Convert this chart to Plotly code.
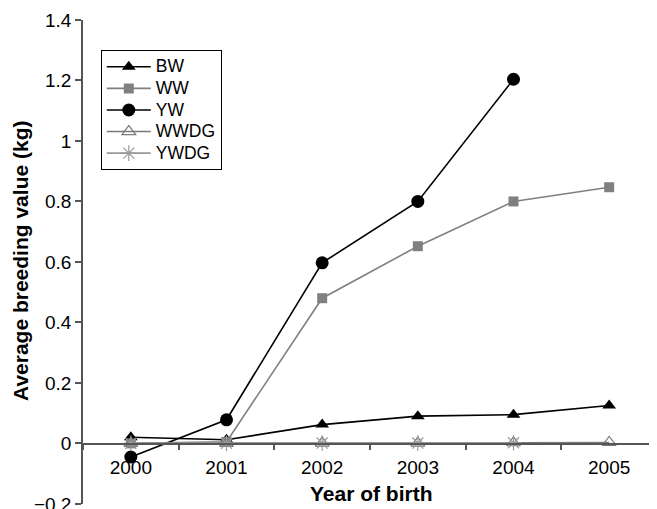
import plotly.graph_objects as go

years = ["2000", "2001", "2002", "2003", "2004", "2005"]
bw = [0.02, 0.012, 0.062, 0.09, 0.095, 0.125]
ww = [0.0, 0.005, 0.48, 0.652, 0.8, 0.847]
yw = [-0.045, 0.078, 0.597, 0.8, 1.204, None]
wwdg = [0.0, 0.0, 0.001, 0.001, 0.002, 0.003]
ywdg = [0.0, 0.0, 0.001, 0.001, 0.002, None]
series_names = ["BW", "WW", "YW", "WWDG", "YWDG"]

y_ticks = [-0.2, 0, 0.2, 0.4, 0.6, 0.8, 1, 1.2, 1.4]
y_ticklabels = ["\u22120.2", "0", "0.2", "0.4", "0.6", "0.8", "1", "1.2", "1.4"]

FONT = "Liberation Sans, Arial, sans-serif"


def lname(n):
    return "<span style='font-size:17.5px'>" + n + "</span>"


fig = go.Figure()
fig.add_trace(go.Scatter(x=years, y=bw, name=lname(series_names[0]), mode="lines+markers",
                         line=dict(color="black", width=1.6),
                         marker=dict(symbol="triangle-up", size=12, color="black")))
fig.add_trace(go.Scatter(x=years, y=ww, name=lname(series_names[1]), mode="lines+markers",
                         line=dict(color="#808080", width=1.6),
                         marker=dict(symbol="square", size=10, color="#808080")))
fig.add_trace(go.Scatter(x=years, y=yw, name=lname(series_names[2]), mode="lines+markers",
                         line=dict(color="black", width=1.6),
                         marker=dict(symbol="circle", size=13, color="black")))
fig.add_trace(go.Scatter(x=years, y=wwdg, name=lname(series_names[3]), mode="lines+markers",
                         line=dict(color="#7a7a7a", width=1.6),
                         marker=dict(symbol="triangle-up-open", size=12, color="#7a7a7a",
                                     line=dict(width=1.2))))
fig.add_trace(go.Scatter(x=years, y=ywdg, name=lname(series_names[4]), mode="lines+markers",
                         line=dict(color="#9a9a9a", width=1.6),
                         marker=dict(symbol="asterisk-open", size=13, color="#9a9a9a",
                                     line=dict(width=1.2, color="#9a9a9a"))))

# The page body has an 8px default margin, so the figure is 8px smaller and
# margins are reduced by 8px to keep the plot area where the reference has it.
fig.update_layout(
    width=649, height=501,
    margin=dict(l=75, r=0, t=12, b=5, autoexpand=False),
    plot_bgcolor="white", paper_bgcolor="white",
    font=dict(family=FONT, size=18, color="black"),
    showlegend=True,
    legend=dict(x=0.031, y=0.938, xanchor="left", yanchor="top",
                bordercolor="black", borderwidth=1, bgcolor="white",
                font=dict(size=14.3), itemwidth=44, tracegroupgap=0),
    xaxis=dict(type="category", range=[-0.5, 5.5], anchor="free", position=0.125,
               showline=True, linecolor="#555", linewidth=1.5,
               ticks="outside", tickson="boundaries", ticklen=6, tickcolor="#555",
               tickwidth=1.5, showgrid=False, zeroline=False, automargin=False,
               ticklabelstandoff=7, tickfont=dict(size=19)),
    yaxis=dict(range=[-0.2005, 1.4], tickvals=y_ticks, ticktext=y_ticklabels,
               showline=True, linecolor="#555", linewidth=1.5,
               ticks="outside", ticklen=6, tickcolor="#555", tickwidth=1.5,
               showgrid=False, zeroline=False, tickfont=dict(size=19),
               automargin=False, ticklabeloverflow="allow"),
    annotations=[
        dict(text="<b>Year of birth</b>", xref="paper", yref="paper",
             x=0.5026, y=0.0227, xanchor="center", yanchor="middle",
             showarrow=False, font=dict(size=21)),
        dict(text="<b>Average breeding value (kg)</b>", xref="paper", yref="paper",
             x=-0.1098, y=0.502, xanchor="center", yanchor="middle", textangle=-90,
             showarrow=False, font=dict(size=21)),
    ],
)

fig.write_html("out.html")
